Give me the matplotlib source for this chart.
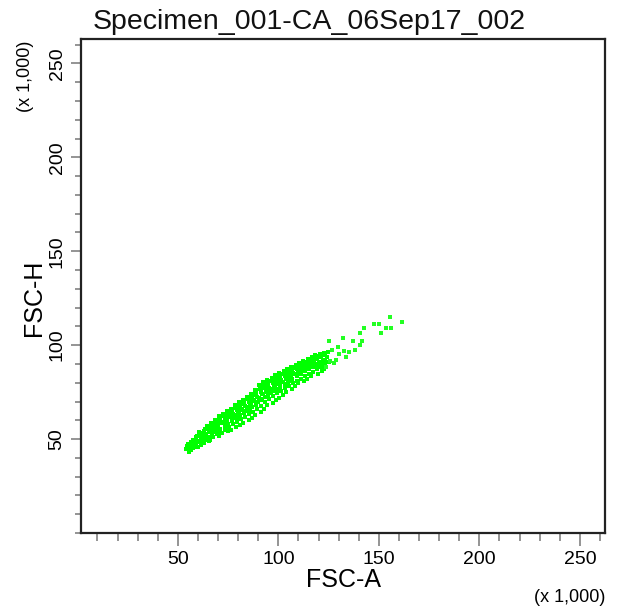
import matplotlib
matplotlib.use("Agg")
import matplotlib.pyplot as plt
from matplotlib.ticker import MultipleLocator

plt.rcParams['font.family'] = ['Liberation Sans', 'DejaVu Sans']

title = "Specimen_001-CA_06Sep17_002"
x_label = "FSC-A"
y_label = "FSC-H"
scale_note = "(x 1,000)"
major_ticks = [50, 100, 150, 200, 250]

# dense band (values in thousands)
band_a = [
    53.8, 54.5, 55.2, 54.9, 55.6,
    56.1, 56.7, 57.2, 56.4, 57.5,
    58.2, 58.8, 59.3, 58.5, 59.7,
    60.3, 60.9, 61.4, 60.6, 61.7, 60.1,
    62.2, 62.8, 63.3, 62.5, 63.6,
    64.1, 64.7, 65.2, 64.4, 65.6, 64.9,
    66.3, 66.9, 67.4, 66.6, 67.7, 66.1,
    68.2, 68.8, 69.3, 68.5, 69.6, 68.0,
    70.1, 70.7, 71.2, 70.4, 71.5, 70.9, 70.3,
    72.3, 72.9, 73.4, 72.6, 73.7, 72.1,
    74.2, 74.8, 75.3, 74.5, 75.6, 74.0, 75.0,
    76.1, 76.7, 77.2, 76.4, 77.5, 76.9, 76.3,
    78.3, 78.9, 79.4, 78.6, 79.7, 78.1, 79.1,
    80.2, 80.8, 81.3, 80.5, 81.6, 80.0, 81.0,
    82.1, 82.7, 83.2, 82.4, 83.5, 82.9, 82.3,
    84.3, 84.9, 85.4, 84.6, 85.7, 84.1, 85.2,
    86.2, 86.8, 87.3, 86.5, 87.6, 86.0, 87.0,
    88.1, 88.7, 89.2, 88.4, 89.5, 88.9, 88.3,
    90.3, 90.9, 91.4, 90.6, 91.7, 90.1, 91.2,
    92.2, 92.8, 93.3, 92.5, 93.6, 92.0, 93.0,
    94.1, 94.7, 95.2, 94.4, 95.5, 94.9, 94.3,
    96.3, 96.9, 97.4, 96.6, 97.7, 96.1, 97.1,
    98.2, 98.8, 99.3, 98.5, 99.6, 98.0, 99.0,
    100.1, 100.7, 101.2, 100.4, 101.5, 100.9, 100.3,
    102.3, 102.9, 103.4, 102.6, 103.7, 102.1,
    104.2, 104.8, 105.3, 104.5, 105.6, 104.0, 105.0,
    106.1, 106.7, 107.2, 106.4, 107.5, 106.9,
    108.3, 108.9, 109.4, 108.6, 109.7, 108.1,
    110.2, 110.8, 111.3, 110.5, 111.6, 110.0,
    112.1, 112.7, 113.2, 112.4, 113.5, 112.9,
    114.3, 114.9, 115.4, 114.6, 115.7, 114.1,
    116.2, 116.8, 117.3, 116.5, 117.6, 116.0,
    118.1, 118.7, 119.2, 118.4, 119.5,
    120.3, 120.9, 121.4, 120.6, 121.7,
    122.2, 122.8, 123.3, 122.5,
    124.1, 124.7, 125.2,
    # in-between readings
    55.4, 55.4, 57.3, 57.3, 57.3, 59.1, 59.1, 59.1, 61.2, 61.2, 61.2,
    63.0, 63.0, 63.0, 63.0, 65.3, 65.3, 65.3, 65.3, 67.1, 67.1, 67.1, 67.1,
    69.2, 69.2, 69.2, 69.2, 71.0, 71.0, 71.0, 71.0, 73.2, 73.2, 73.2, 73.2,
    75.1, 75.1, 75.1, 75.1, 77.0, 77.0, 77.0, 77.0, 79.2, 79.2, 79.2, 79.2,
    81.1, 81.1, 81.1, 81.1, 83.0, 83.0, 83.0, 83.0, 85.2, 85.2, 85.2, 85.2,
    87.1, 87.1, 87.1, 87.1, 89.0, 89.0, 89.0, 89.0, 91.2, 91.2, 91.2, 91.2,
    93.1, 93.1, 93.1, 93.1, 95.0, 95.0, 95.0, 95.0, 97.2, 97.2, 97.2, 97.2,
    99.1, 99.1, 99.1, 99.1, 101.0, 101.0, 101.0, 101.0, 103.2, 103.2, 103.2, 103.2,
    105.1, 105.1, 105.1, 105.1, 107.0, 107.0, 107.0, 107.0, 109.2, 109.2, 109.2, 109.2,
    111.1, 111.1, 111.1, 111.1, 113.0, 113.0, 113.0, 113.0, 115.2, 115.2, 115.2, 115.2,
    117.1, 117.1, 117.1, 117.1, 119.0, 119.0, 119.0, 121.1, 121.1, 121.1, 123.0, 123.0,
]
band_h = [
    44.5, 46.2, 45.0, 47.3, 43.2,
    46.8, 48.5, 45.4, 44.1, 49.6,
    47.0, 50.1, 48.4, 45.6, 51.8,
    49.2, 52.5, 47.1, 53.8, 50.6, 46.0,
    50.3, 53.7, 55.2, 48.0, 51.9,
    52.6, 55.8, 49.3, 57.0, 53.9, 50.8,
    54.4, 57.6, 51.2, 58.4, 55.9, 49.6,
    56.1, 59.3, 52.7, 60.2, 57.8, 54.0,
    57.4, 60.8, 53.4, 62.1, 59.0, 55.6, 51.5,
    58.6, 62.3, 55.0, 63.4, 60.5, 53.2,
    60.1, 63.6, 56.4, 64.9, 61.8, 58.0, 54.2,
    61.5, 65.3, 57.9, 66.2, 63.4, 59.6, 55.1,
    63.0, 66.8, 59.2, 67.9, 64.6, 61.0, 56.3,
    64.3, 68.4, 60.5, 69.6, 66.2, 62.4, 57.4,
    65.6, 69.9, 61.8, 71.0, 67.8, 63.7, 58.7,
    67.1, 71.3, 63.2, 72.4, 69.2, 65.0, 59.9,
    68.5, 72.8, 64.6, 74.1, 70.7, 66.6, 61.3,
    70.2, 74.6, 66.1, 76.0, 72.3, 68.0, 62.7,
    72.0, 76.5, 67.8, 78.6, 74.2, 69.9, 64.4,
    73.8, 78.3, 69.6, 80.2, 76.1, 71.5, 66.2,
    75.3, 79.6, 71.4, 81.5, 77.4, 73.2, 68.0,
    76.6, 80.8, 72.9, 82.6, 78.7, 74.5, 69.4,
    77.9, 82.0, 74.3, 84.1, 79.9, 75.9, 70.8,
    79.2, 83.3, 75.8, 85.2, 81.4, 77.4, 72.1,
    80.6, 84.5, 77.2, 86.4, 82.5, 73.6,
    81.9, 85.7, 78.5, 87.3, 83.8, 75.2, 80.0,
    83.1, 86.9, 79.6, 88.4, 85.0, 76.4,
    84.4, 88.0, 80.9, 89.5, 86.2, 78.0,
    85.6, 89.1, 82.2, 90.6, 87.4, 79.6,
    86.8, 90.2, 83.5, 91.5, 88.5, 80.8,
    88.1, 91.3, 84.6, 92.4, 89.6, 82.0,
    89.2, 92.3, 85.9, 93.5, 90.5, 83.4,
    90.1, 93.4, 87.1, 94.6, 84.5,
    91.0, 94.2, 88.4, 95.1, 86.0,
    92.3, 95.6, 89.5, 87.2,
    93.6, 96.2, 90.8,
    45.8, 47.6, 47.2, 49.0, 45.1, 46.3, 49.5, 51.0, 48.3, 51.4, 53.0,
    49.6, 52.8, 54.5, 47.8, 51.0, 54.6, 56.7, 49.2, 52.4, 56.3, 58.2, 53.9,
    53.9, 57.5, 59.9, 55.6, 55.2, 58.8, 61.5, 60.3, 56.7, 60.2, 63.1, 61.7,
    58.1, 62.0, 64.5, 63.3, 59.5, 63.9, 66.0, 64.8, 61.2, 65.7, 67.8, 66.3,
    62.8, 67.1, 69.3, 68.0, 64.2, 68.6, 70.4, 69.5, 65.7, 70.0, 72.1, 71.0,
    67.3, 71.5, 73.8, 72.6, 69.0, 73.3, 75.9, 74.5, 70.9, 75.3, 78.0, 76.8,
    72.6, 77.0, 79.8, 78.5, 74.1, 78.3, 81.0, 79.9, 75.6, 79.7, 82.3, 81.2,
    76.9, 81.1, 83.8, 82.6, 78.3, 82.4, 84.9, 83.7, 79.5, 83.6, 86.1, 85.0,
    80.9, 84.9, 87.2, 86.3, 82.2, 86.1, 88.2, 87.5, 83.7, 87.3, 89.2, 88.6,
    84.9, 88.3, 90.3, 89.7, 86.1, 89.4, 91.3, 90.8, 87.4, 90.5, 92.4, 91.8,
    88.5, 91.6, 93.3, 92.9, 89.6, 92.6, 94.1, 90.6, 93.5, 94.8, 91.8, 94.7,
]
# sparse upper tail
tail_a = [155.6, 161.7, 147.6, 149.9, 142.8, 153.6, 155.9, 140.6, 151.1, 132.3,
          125.4, 137.0, 141.6, 140.6, 129.9, 126.6, 138.2, 132.8, 135.3, 130.2,
          133.5, 128.6, 125.7, 127.8, 123.9]
tail_h = [115.2, 112.6, 111.4, 111.4, 109.0, 109.0, 109.0, 106.4, 106.4, 104.0,
          102.4, 102.4, 102.4, 100.2, 98.9, 97.5, 97.5, 97.0, 96.3, 95.2,
          93.9, 92.2, 91.7, 90.5, 88.6]

W, H = 621, 613
fig = plt.figure(figsize=(W / 100, H / 100), dpi=100)
L, R, T, B = 81, 605, 39, 533
ax = fig.add_axes([L / W, (H - B) / H, (R - L) / W, (B - T) / H])

ax.scatter(band_a, band_h, s=10.5, marker='s', color='#00ff00', linewidths=0)
ax.scatter(tail_a, tail_h, s=9, marker='s', color='#22ff22', linewidths=0)

ax.set_xlim(1.8, 262.5)
ax.set_ylim(0, 263)
ax.xaxis.set_minor_locator(MultipleLocator(10))
ax.yaxis.set_minor_locator(MultipleLocator(10))
ax.set_xticks(major_ticks)
ax.set_yticks(major_ticks)
ax.set_xticklabels([str(v) for v in major_ticks])
ax.set_yticklabels([str(v) for v in major_ticks])

for s in ax.spines.values():
    s.set_linewidth(1.6)
    s.set_color('#222222')

ax.tick_params(axis='x', which='major', length=9, width=1.1, color='#777777',
               labelsize=14, pad=4)
ax.tick_params(axis='x', which='minor', length=5.5, width=1.1, color='#777777')
ax.tick_params(axis='y', which='major', length=7, width=1.1, color='#777777',
               labelsize=14, pad=4, labelrotation=90)
ax.tick_params(axis='y', which='minor', length=4, width=1.1, color='#777777')
for lab in ax.get_yticklabels():
    lab.set_va('center')

fig.text(309 / W, 1 - 22 / H, title, ha='center', va='center', fontsize=20.5, color='#111111')
fig.text(343 / W, 1 - 580 / H, x_label, ha='center', va='center', fontsize=18)
fig.text(34 / W, 1 - 298 / H, y_label, ha='center', va='center', fontsize=18, rotation=90)
fig.text(605 / W, 1 - 597 / H, scale_note, ha='right', va='center', fontsize=13)
fig.text(26 / W, 1 - 41 / H, scale_note, ha='center', va='top', fontsize=13, rotation=90)

fig.savefig("out.png", dpi=100)
